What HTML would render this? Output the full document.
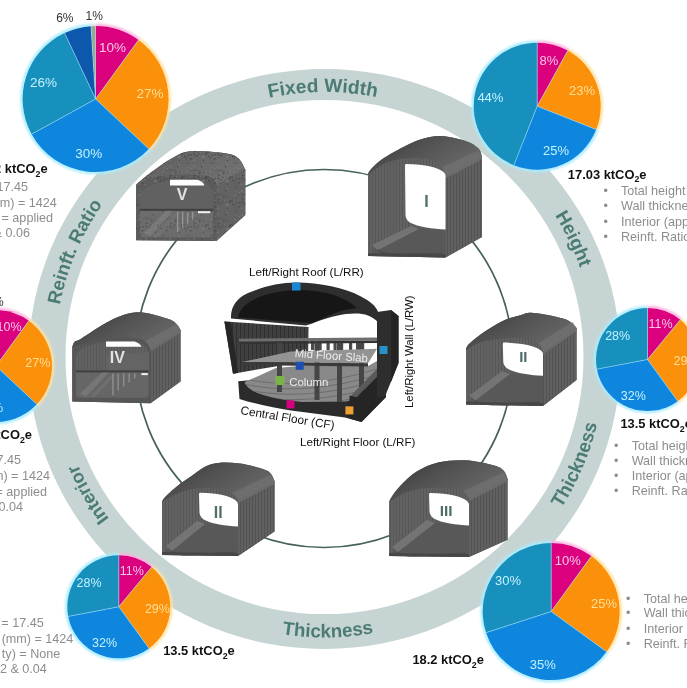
<!DOCTYPE html><html><head><meta charset="utf-8"><style>html,body{margin:0;padding:0;background:#fff;width:687px;height:688px;overflow:hidden;position:relative}</style></head><body>
<svg width="687" height="688" viewBox="0 0 687 688" style="position:absolute;left:0;top:0;will-change:transform;font-family:'Liberation Sans',sans-serif">
<defs><pattern id="speck" width="24" height="24" patternUnits="userSpaceOnUse"><circle cx="7.8" cy="3.6" r="0.69" fill="#3e3e3e"/><circle cx="19.7" cy="2.3" r="0.65" fill="#777777"/><circle cx="5.2" cy="2.1" r="0.55" fill="#474747"/><circle cx="2.2" cy="10.2" r="0.80" fill="#3e3e3e"/><circle cx="22.7" cy="15.1" r="0.65" fill="#3e3e3e"/><circle cx="13.9" cy="9.5" r="0.89" fill="#3e3e3e"/><circle cx="13.4" cy="3.2" r="0.55" fill="#777777"/><circle cx="2.8" cy="7.4" r="0.79" fill="#474747"/><circle cx="2.5" cy="13.7" r="0.41" fill="#3e3e3e"/><circle cx="13.1" cy="1.5" r="0.34" fill="#474747"/><circle cx="11.9" cy="12.8" r="0.77" fill="#808080"/><circle cx="14.1" cy="10.9" r="0.48" fill="#474747"/><circle cx="16.8" cy="5.9" r="0.64" fill="#777777"/><circle cx="11.9" cy="8.2" r="0.57" fill="#777777"/><circle cx="23.5" cy="2.8" r="0.55" fill="#4f4f4f"/><circle cx="3.6" cy="11.7" r="0.32" fill="#3e3e3e"/><circle cx="18.3" cy="13.8" r="0.83" fill="#4f4f4f"/><circle cx="8.2" cy="8.4" r="0.60" fill="#808080"/><circle cx="1.7" cy="2.2" r="0.46" fill="#3e3e3e"/><circle cx="1.5" cy="16.8" r="0.69" fill="#808080"/><circle cx="6.8" cy="9.3" r="0.70" fill="#3e3e3e"/><circle cx="22.6" cy="8.5" r="0.67" fill="#808080"/><circle cx="1.4" cy="18.4" r="0.38" fill="#474747"/><circle cx="9.5" cy="22.0" r="0.60" fill="#474747"/><circle cx="10.8" cy="13.2" r="0.83" fill="#808080"/><circle cx="20.7" cy="6.7" r="0.55" fill="#4f4f4f"/><circle cx="16.4" cy="9.1" r="0.44" fill="#3e3e3e"/><circle cx="4.2" cy="5.6" r="0.44" fill="#808080"/><circle cx="19.9" cy="4.4" r="0.47" fill="#474747"/><circle cx="10.1" cy="8.9" r="0.64" fill="#474747"/><circle cx="16.6" cy="12.4" r="0.67" fill="#3e3e3e"/><circle cx="11.0" cy="20.9" r="0.87" fill="#777777"/><circle cx="9.4" cy="9.6" r="0.36" fill="#808080"/><circle cx="1.5" cy="1.6" r="0.43" fill="#474747"/><circle cx="2.6" cy="14.4" r="0.36" fill="#777777"/><circle cx="3.6" cy="2.4" r="0.52" fill="#3e3e3e"/><circle cx="1.7" cy="5.0" r="0.53" fill="#4f4f4f"/><circle cx="22.9" cy="14.5" r="0.58" fill="#3e3e3e"/><circle cx="20.4" cy="23.8" r="0.58" fill="#808080"/><circle cx="7.5" cy="3.5" r="0.75" fill="#4f4f4f"/><circle cx="11.5" cy="16.6" r="0.61" fill="#474747"/><circle cx="22.8" cy="12.7" r="0.39" fill="#777777"/><circle cx="21.9" cy="18.2" r="0.48" fill="#3e3e3e"/><circle cx="16.7" cy="6.3" r="0.52" fill="#474747"/><circle cx="8.5" cy="5.3" r="0.62" fill="#777777"/><circle cx="7.9" cy="5.4" r="0.79" fill="#474747"/><circle cx="19.3" cy="19.6" r="0.74" fill="#474747"/><circle cx="4.8" cy="11.8" r="0.74" fill="#3e3e3e"/><circle cx="19.0" cy="11.3" r="0.42" fill="#777777"/><circle cx="23.0" cy="10.7" r="0.86" fill="#4f4f4f"/><circle cx="22.9" cy="8.8" r="0.43" fill="#474747"/><circle cx="11.3" cy="8.1" r="0.59" fill="#777777"/><circle cx="20.2" cy="11.5" r="0.69" fill="#3e3e3e"/><circle cx="20.0" cy="2.9" r="0.53" fill="#474747"/><circle cx="11.5" cy="4.3" r="0.77" fill="#4f4f4f"/><circle cx="2.1" cy="22.7" r="0.73" fill="#808080"/><circle cx="9.6" cy="22.7" r="0.73" fill="#474747"/><circle cx="23.8" cy="0.7" r="0.65" fill="#808080"/><circle cx="19.4" cy="3.5" r="0.80" fill="#808080"/><circle cx="15.8" cy="8.4" r="0.63" fill="#474747"/></pattern>
<linearGradient id="roofg" x1="0" y1="0" x2="1" y2="0.6">
  <stop offset="0" stop-color="#353535"/><stop offset="0.45" stop-color="#515151"/><stop offset="1" stop-color="#6a6a6a"/>
</linearGradient>
<linearGradient id="roofgt" x1="0" y1="0" x2="1" y2="0.6">
  <stop offset="0" stop-color="#5c5c5c"/><stop offset="1" stop-color="#727272"/>
</linearGradient>
<pattern id="stripe1" width="3" height="10" patternUnits="userSpaceOnUse">
  <rect width="3" height="10" fill="#626262"/><rect width="1" height="10" fill="#575757"/>
</pattern>
<pattern id="stripe2" width="3" height="10" patternUnits="userSpaceOnUse">
  <rect width="3" height="10" fill="#606060"/><rect width="1" height="10" fill="#535353"/>
</pattern>

<pattern id="stripe3" width="4" height="10" patternUnits="userSpaceOnUse">
  <rect width="4" height="10" fill="#404040"/><rect width="1.2" height="10" fill="#303030"/>
</pattern>
<filter id="glow" x="-20%" y="-20%" width="140%" height="140%"><feGaussianBlur stdDeviation="0.9"/></filter></defs>
<rect width="687" height="688" fill="#ffffff"/>
<path fill-rule="evenodd" fill="#c6d5d3" d="M28.5,359 A296,290 0 1 1 620.5,359 A296,290 0 1 1 28.5,359 Z M65.5,357 A259,257 0 1 0 583.5,357 A259,257 0 1 0 65.5,357 Z"/>
<circle cx="324" cy="358.5" r="189" fill="none" stroke="#46605b" stroke-width="1.7"/>
<g font-size="19.2" font-weight="bold" fill="#4c7b76"><text transform="translate(274.68,96.71) rotate(-10.80)" text-anchor="middle">F</text><text transform="translate(283.08,95.24) rotate(-8.96)" text-anchor="middle">i</text><text transform="translate(291.01,94.12) rotate(-7.23)" text-anchor="middle">x</text><text transform="translate(301.63,92.99) rotate(-4.93)" text-anchor="middle">e</text><text transform="translate(312.81,92.26) rotate(-2.52)" text-anchor="middle">d</text><text transform="translate(333.06,92.14) rotate(1.84)" text-anchor="middle">W</text><text transform="translate(344.77,92.77) rotate(4.37)" text-anchor="middle">i</text><text transform="translate(353.10,93.54) rotate(6.17)" text-anchor="middle">d</text><text transform="translate(362.09,94.67) rotate(8.12)" text-anchor="middle">t</text><text transform="translate(371.03,96.10) rotate(10.08)" text-anchor="middle">h</text></g>
<g font-size="18.8" font-weight="bold" fill="#4c7b76"><text transform="translate(558.37,221.08) rotate(59.65)" text-anchor="middle">H</text><text transform="translate(564.21,231.58) rotate(62.19)" text-anchor="middle">e</text><text transform="translate(567.76,238.57) rotate(63.85)" text-anchor="middle">i</text><text transform="translate(571.33,246.12) rotate(65.62)" text-anchor="middle">g</text><text transform="translate(575.85,256.68) rotate(68.04)" text-anchor="middle">h</text><text transform="translate(579.03,264.96) rotate(69.92)" text-anchor="middle">t</text></g>
<g font-size="18.7" font-weight="bold" fill="#4c7b76"><text transform="translate(61.16,298.42) rotate(-77.25)" text-anchor="middle">R</text><text transform="translate(64.05,286.82) rotate(-74.71)" text-anchor="middle">e</text><text transform="translate(66.22,279.33) rotate(-73.06)" text-anchor="middle">i</text><text transform="translate(68.76,271.42) rotate(-71.30)" text-anchor="middle">n</text><text transform="translate(71.72,263.11) rotate(-69.42)" text-anchor="middle">f</text><text transform="translate(73.98,257.30) rotate(-68.10)" text-anchor="middle">t</text><text transform="translate(76.17,252.03) rotate(-66.89)" text-anchor="middle">.</text><text transform="translate(82.23,238.81) rotate(-63.80)" text-anchor="middle">R</text><text transform="translate(87.74,228.20) rotate(-61.27)" text-anchor="middle">a</text><text transform="translate(91.85,220.98) rotate(-59.50)" text-anchor="middle">t</text><text transform="translate(94.80,216.09) rotate(-58.29)" text-anchor="middle">i</text><text transform="translate(99.28,209.09) rotate(-56.53)" text-anchor="middle">o</text></g>
<g font-size="18.8" font-weight="bold" fill="#4c7b76"><text transform="translate(287.79,635.08) rotate(7.55)" text-anchor="middle">T</text><text transform="translate(299.20,636.35) rotate(5.19)" text-anchor="middle">h</text><text transform="translate(307.53,636.98) rotate(3.48)" text-anchor="middle">i</text><text transform="translate(315.36,637.35) rotate(1.87)" text-anchor="middle">c</text><text transform="translate(325.81,637.50) rotate(-0.27)" text-anchor="middle">k</text><text transform="translate(336.78,637.23) rotate(-2.52)" text-anchor="middle">n</text><text transform="translate(347.73,636.53) rotate(-4.77)" text-anchor="middle">e</text><text transform="translate(358.13,635.47) rotate(-6.91)" text-anchor="middle">s</text><text transform="translate(368.48,634.02) rotate(-9.05)" text-anchor="middle">s</text></g>
<g font-size="18.9" font-weight="bold" fill="#4c7b76"><text transform="translate(564.27,503.57) rotate(-58.74)" text-anchor="middle">T</text><text transform="translate(570.06,493.58) rotate(-61.10)" text-anchor="middle">h</text><text transform="translate(574.01,486.17) rotate(-62.81)" text-anchor="middle">i</text><text transform="translate(577.51,479.11) rotate(-64.42)" text-anchor="middle">c</text><text transform="translate(581.87,469.54) rotate(-66.57)" text-anchor="middle">k</text><text transform="translate(586.05,459.34) rotate(-68.82)" text-anchor="middle">n</text><text transform="translate(589.84,448.98) rotate(-71.07)" text-anchor="middle">e</text><text transform="translate(593.06,438.98) rotate(-73.22)" text-anchor="middle">s</text><text transform="translate(595.90,428.86) rotate(-75.37)" text-anchor="middle">s</text></g>
<g font-size="18.4" font-weight="bold" fill="#4c7b76"><text transform="translate(107.79,516.69) rotate(233.78)" text-anchor="middle">I</text><text transform="translate(103.06,510.03) rotate(235.53)" text-anchor="middle">n</text><text transform="translate(98.26,502.79) rotate(237.38)" text-anchor="middle">t</text><text transform="translate(93.96,495.83) rotate(239.13)" text-anchor="middle">e</text><text transform="translate(89.62,488.30) rotate(240.98)" text-anchor="middle">r</text><text transform="translate(86.70,482.90) rotate(242.29)" text-anchor="middle">i</text><text transform="translate(83.01,475.60) rotate(244.03)" text-anchor="middle">o</text><text transform="translate(79.13,467.26) rotate(246.00)" text-anchor="middle">r</text></g>
<path d="M368.0,175.0 C368.3,174.2 367.9,172.9 370.0,170.5 C372.1,168.1 375.3,164.3 380.4,160.6 C385.5,156.9 394.0,151.9 400.8,148.3 C407.6,144.7 414.3,141.2 421.1,139.2 C427.9,137.2 434.0,135.8 441.5,136.1 C449.0,136.4 459.9,139.2 466.0,141.2 C472.1,143.2 475.5,145.8 478.2,148.3 C480.9,150.9 481.4,155.1 482.0,156.5 L482,237 L445.5,257.5 L368,256 Z" fill="#545454"/>
<path d="M368.0,175.0 C368.3,174.2 367.9,172.9 370.0,170.5 C372.1,168.1 375.3,164.3 380.4,160.6 C385.5,156.9 394.0,151.9 400.8,148.3 C407.6,144.7 414.3,141.2 421.1,139.2 C427.9,137.2 434.0,135.8 441.5,136.1 C449.0,136.4 459.9,139.2 466.0,141.2 C472.1,143.2 475.5,145.8 478.2,148.3 C480.9,150.9 481.4,155.1 482.0,156.5 L445.5,175.4L445.5,175.4 C444.8,173.8 443.9,168.7 441.0,166.0 C438.1,163.3 434.0,160.2 428.0,159.0 C422.0,157.8 412.2,157.8 405.0,158.5 C397.8,159.2 391.2,160.8 385.0,163.5 C378.8,166.2 370.8,173.1 368.0,175.0 Z" fill="url(#roofg)"/>
<path d="M445.5,175.4 L482,156.5 L482,237 L445.5,257.5 Z" fill="url(#stripe2)"/>
<path d="M439.5,168.4 L478,150.5 L482,156.5 L482,159.5 L445.5,178.4 Z" fill="#727272" opacity="0.75"/>
<path d="M368.0,175.0 C370.8,173.1 378.8,166.2 385.0,163.5 C391.2,160.8 397.8,159.2 405.0,158.5 C412.2,157.8 422.0,157.8 428.0,159.0 C434.0,160.2 438.1,163.3 441.0,166.0 C443.9,168.7 444.8,173.8 445.5,175.4 L445.5,257.5 L368,256 Z" fill="url(#stripe1)"/>
<path d="M370,251 L414,228 L445.5,229.5 L445.5,255.5 L441.5,255.5 C425.5,254.5 408,252 374,253 Z" fill="#585858"/>
<path d="M372,245 L411,226 L419,229 L378,250 Z" fill="#747474"/>
<path d="M378,250 C381,253 387,254 395,254 L442.5,253.5" fill="none" stroke="#4a4a4a" stroke-width="1.2"/>
<path d="M368,253 L445.5,254.5 L445.5,257.5 L368,256 Z" fill="#474747"/>
<path d="M406,164 C425.25,164.5 439.425,167.5 444.0,172.5 Q445.5,174 445.5,175.5 L445.5,229.5 C433.35,229.0 417.96,227.0 409.86,222.5 C406.5,220.0 405.5,217.5 405.5,215.5 L405,165.5 Q405,164 406,164 Z" fill="#ffffff"/>
<text x="426.5" y="206.6" text-anchor="middle" font-size="16" font-weight="bold" fill="#4f6f6b">I</text>
<path d="M466.0,349.0 C466.4,348.2 466.9,346.3 468.5,344.5 C470.1,342.7 472.4,340.7 475.7,338.2 C478.9,335.7 483.1,332.6 488.0,329.5 C492.9,326.4 500.2,322.1 505.4,319.8 C510.6,317.5 514.7,316.6 519.4,315.5 C524.1,314.4 525.8,312.3 533.4,312.9 C541.0,313.5 557.6,316.5 564.8,319.0 C572.0,321.5 574.5,326.5 576.5,328.0 L576.5,380 L543,406 L466,404.6 Z" fill="#545454"/>
<path d="M466.0,349.0 C466.4,348.2 466.9,346.3 468.5,344.5 C470.1,342.7 472.4,340.7 475.7,338.2 C478.9,335.7 483.1,332.6 488.0,329.5 C492.9,326.4 500.2,322.1 505.4,319.8 C510.6,317.5 514.7,316.6 519.4,315.5 C524.1,314.4 525.8,312.3 533.4,312.9 C541.0,313.5 557.6,316.5 564.8,319.0 C572.0,321.5 574.5,326.5 576.5,328.0 L543,351.3L543.0,351.3 C542.2,349.9 541.0,345.1 538.0,343.0 C535.0,340.9 530.7,339.2 525.0,338.5 C519.3,337.8 510.9,337.9 503.7,338.5 C496.5,339.1 488.3,340.1 482.0,342.0 C475.7,343.9 468.7,348.7 466.0,350.0 Z" fill="url(#roofg)"/>
<path d="M543,351.3 L576.5,328 L576.5,380 L543,406 Z" fill="url(#stripe2)"/>
<path d="M537,344.3 L572.5,322 L576.5,328 L576.5,331 L543,354.3 Z" fill="#727272" opacity="0.75"/>
<path d="M466.0,350.0 C468.7,348.7 475.7,343.9 482.0,342.0 C488.3,340.1 496.5,339.1 503.7,338.5 C510.9,337.9 519.3,337.8 525.0,338.5 C530.7,339.2 535.0,340.9 538.0,343.0 C541.0,345.1 542.2,349.9 543.0,351.3 L543,406 L466,404.6 Z" fill="url(#stripe1)"/>
<path d="M468,401.6 L505,373 L543,375.7 L543,404 L539,404 C523,403 506,400.6 472,401.6 Z" fill="#585858"/>
<path d="M469.5,395.6 L502,371 L510,374 L475.5,400.6 Z" fill="#747474"/>
<path d="M475.5,400.6 C478.5,403.6 484.5,404.6 492.5,404.6 L540,402" fill="none" stroke="#4a4a4a" stroke-width="1.2"/>
<path d="M466,401.6 L543,403 L543,406 L466,404.6 Z" fill="#474747"/>
<path d="M503.8,342.6 C522.9,343.1 536.97,346.1 541.5,351.1 Q543,352.6 543,354.1 L543,375.7 C530.94,375.2 515.664,373.2 507.624,368.7 C504.3,366.2 503.3,363.7 503.3,361.7 L502.8,344.1 Q502.8,342.6 503.8,342.6 Z" fill="#ffffff"/>
<text x="523.3" y="362.4" text-anchor="middle" font-size="15" font-weight="bold" fill="#4f6f6b">II</text>
<path d="M389.2,502.0 C389.6,501.2 389.6,499.9 391.5,497.2 C393.4,494.5 396.2,490.1 400.4,485.8 C404.6,481.5 410.3,475.4 416.7,471.5 C423.1,467.6 430.9,464.2 439.0,462.3 C447.1,460.4 456.4,459.8 465.6,460.3 C474.8,460.8 487.7,463.7 494.0,465.4 C500.3,467.1 501.2,468.3 503.5,470.5 C505.8,472.7 506.8,477.2 507.5,478.6 L507.5,539.8 L469,557 L389.2,556 Z" fill="#545454"/>
<path d="M389.2,502.0 C389.6,501.2 389.6,499.9 391.5,497.2 C393.4,494.5 396.2,490.1 400.4,485.8 C404.6,481.5 410.3,475.4 416.7,471.5 C423.1,467.6 430.9,464.2 439.0,462.3 C447.1,460.4 456.4,459.8 465.6,460.3 C474.8,460.8 487.7,463.7 494.0,465.4 C500.3,467.1 501.2,468.3 503.5,470.5 C505.8,472.7 506.8,477.2 507.5,478.6 L469,498L469.0,498.0 C468.3,497.2 467.8,494.6 465.0,493.0 C462.2,491.4 458.0,489.3 452.0,488.5 C446.0,487.7 436.5,487.4 429.0,488.0 C421.5,488.6 413.6,489.7 407.0,492.0 C400.4,494.3 392.2,500.3 389.2,502.0 Z" fill="url(#roofg)"/>
<path d="M469,498 L507.5,478.6 L507.5,539.8 L469,557 Z" fill="url(#stripe2)"/>
<path d="M463,491 L503.5,472.6 L507.5,478.6 L507.5,481.6 L469,501 Z" fill="#727272" opacity="0.75"/>
<path d="M389.2,502.0 C392.2,500.3 400.4,494.3 407.0,492.0 C413.6,489.7 421.5,488.6 429.0,488.0 C436.5,487.4 446.0,487.7 452.0,488.5 C458.0,489.3 462.2,491.4 465.0,493.0 C467.8,494.6 468.3,497.2 469.0,498.0 L469,557 L389.2,556 Z" fill="url(#stripe1)"/>
<path d="M391.2,553 L430,522 L469,525.5 L469,555 L465,555 C449,554 429.2,552 395.2,553 Z" fill="#585858"/>
<path d="M392,547 L427,520 L435,523 L398,552 Z" fill="#747474"/>
<path d="M398,552 C401,555 407,556 415,556 L466,553" fill="none" stroke="#4a4a4a" stroke-width="1.2"/>
<path d="M389.2,553 L469,554 L469,557 L389.2,556 Z" fill="#474747"/>
<path d="M430,493 C449.0,493.5 463.0,496.5 467.5,501.5 Q469,503 469,504.5 L469,525.5 C457.0,525.0 441.8,523.0 433.8,518.5 C430.5,516.0 429.5,513.5 429.5,511.5 L429,494.5 Q429,493 430,493 Z" fill="#ffffff"/>
<text x="446.2" y="516.3" text-anchor="middle" font-size="15.5" font-weight="bold" fill="#4f6f6b">III</text>
<path d="M162.2,502.0 C162.6,501.3 162.1,500.4 164.5,497.8 C166.9,495.2 172.1,490.2 176.5,486.7 C180.9,483.1 185.0,480.2 190.8,476.5 C196.6,472.8 203.3,466.5 211.1,464.3 C218.9,462.1 228.8,462.4 237.6,463.2 C246.4,464.0 258.5,467.6 264.1,469.4 C269.7,471.2 269.3,472.1 271.0,474.0 C272.7,475.9 273.9,479.8 274.5,481.0 L274.5,531.5 L238,556 L162.2,555 Z" fill="#545454"/>
<path d="M162.2,502.0 C162.6,501.3 162.1,500.4 164.5,497.8 C166.9,495.2 172.1,490.2 176.5,486.7 C180.9,483.1 185.0,480.2 190.8,476.5 C196.6,472.8 203.3,466.5 211.1,464.3 C218.9,462.1 228.8,462.4 237.6,463.2 C246.4,464.0 258.5,467.6 264.1,469.4 C269.7,471.2 269.3,472.1 271.0,474.0 C272.7,475.9 273.9,479.8 274.5,481.0 L238,500L238.0,500.0 C237.3,499.0 236.7,495.8 234.0,494.0 C231.3,492.2 227.8,489.9 222.0,489.0 C216.2,488.1 206.0,487.9 199.0,488.5 C192.0,489.1 186.1,490.2 180.0,492.5 C173.9,494.8 165.2,500.4 162.2,502.0 Z" fill="url(#roofg)"/>
<path d="M238,500 L274.5,481 L274.5,531.5 L238,556 Z" fill="url(#stripe2)"/>
<path d="M232,493 L270.5,475 L274.5,481 L274.5,484 L238,503 Z" fill="#727272" opacity="0.75"/>
<path d="M162.2,502.0 C165.2,500.4 173.9,494.8 180.0,492.5 C186.1,490.2 192.0,489.1 199.0,488.5 C206.0,487.9 216.2,488.1 222.0,489.0 C227.8,489.9 231.3,492.2 234.0,494.0 C236.7,495.8 237.3,499.0 238.0,500.0 L238,556 L162.2,555 Z" fill="url(#stripe1)"/>
<path d="M164.2,552 L200,523 L238,526.4 L238,554 L234,554 C218,553 202.2,551 168.2,552 Z" fill="#585858"/>
<path d="M166,546 L197,521 L205,524 L172,551 Z" fill="#747474"/>
<path d="M172,551 C175,554 181,555 189,555 L235,552" fill="none" stroke="#4a4a4a" stroke-width="1.2"/>
<path d="M162.2,552 L238,553 L238,556 L162.2,555 Z" fill="#474747"/>
<path d="M200,492.8 C218.5,493.3 232.15,496.3 236.5,501.3 Q238,502.8 238,504.3 L238,526.4 C226.3,525.9 211.48,523.9 203.68,519.4 C200.5,516.9 199.5,514.4 199.5,512.4 L199,494.3 Q199,492.8 200,492.8 Z" fill="#ffffff"/>
<text x="218.2" y="518.3" text-anchor="middle" font-size="16" font-weight="bold" fill="#4f6f6b">II</text>
<path d="M72.3,347.0 C72.7,346.2 73.0,343.4 74.5,342.0 C76.0,340.6 75.4,342.1 81.4,338.5 C87.4,334.9 101.1,324.9 110.5,320.5 C119.9,316.1 128.4,312.6 137.8,312.3 C147.2,312.0 160.5,316.7 166.9,318.6 C173.3,320.5 173.7,321.6 176.0,323.5 C178.3,325.4 179.8,328.9 180.5,330.0 L180.5,381.4 L150.5,403.3 L72.3,401.4 Z" fill="#525252"/>
<path d="M72.3,347.0 C72.7,346.2 73.0,343.4 74.5,342.0 C76.0,340.6 75.4,342.1 81.4,338.5 C87.4,334.9 101.1,324.9 110.5,320.5 C119.9,316.1 128.4,312.6 137.8,312.3 C147.2,312.0 160.5,316.7 166.9,318.6 C173.3,320.5 173.7,321.6 176.0,323.5 C178.3,325.4 179.8,328.9 180.5,330.0 L150.5,348.7L150.5,348.7 C149.6,347.5 148.3,343.2 145.0,341.4 C141.7,339.6 137.8,338.1 130.5,337.8 C123.2,337.5 111.1,338.1 101.4,339.6 C91.7,341.1 77.2,345.8 72.3,347.0 Z" fill="url(#roofg)"/>
<path d="M150.5,348.7 L180.5,330 L180.5,381.4 L150.5,403.3 Z" fill="url(#stripe2)"/>
<path d="M144.5,341.7 L176.5,324 L180.5,330 L180.5,333 L150.5,351.7 Z" fill="#727272" opacity="0.7"/>
<path d="M72.3,347.0 C77.2,345.8 91.7,341.1 101.4,339.6 C111.1,338.1 123.2,337.5 130.5,337.8 C137.8,338.1 141.7,339.6 145.0,341.4 C148.3,343.2 149.6,347.5 150.5,348.7 L150.5,403.3 L72.3,401.4 Z" fill="#565656"/>
<path d="M75.9,356.0 C77.2,354.7 79.3,350.2 84.0,348.0 C88.7,345.8 96.3,343.5 104.0,342.5 C111.7,341.5 123.5,341.6 130.0,342.0 C136.5,342.4 139.9,343.3 143.0,345.0 C146.1,346.7 147.8,350.8 148.7,352.0 L148.7,393.8 Q148.7,397.8 144.7,397.8 L79.9,397.8 Q75.9,397.8 75.9,393.8 Z" fill="#666666"/>
<path d="M75.9,356.0 C77.2,354.7 79.3,350.2 84.0,348.0 C88.7,345.8 96.3,343.5 104.0,342.5 C111.7,341.5 123.5,341.6 130.0,342.0 C136.5,342.4 139.9,343.3 143.0,345.0 C146.1,346.7 147.8,350.8 148.7,352.0 L148.7,371.4 L75.9,371.4 Z" fill="#646464"/>
<path d="M75.9,356.0 C77.2,354.7 79.3,350.2 84.0,348.0 C88.7,345.8 96.3,343.5 104.0,342.5 C111.7,341.5 123.5,341.6 130.0,342.0 C136.5,342.4 139.9,343.3 143.0,345.0 C146.1,346.7 147.8,350.8 148.7,352.0 L106,356 L106,371.4 L75.9,371.4 Z" fill="url(#stripe1)" opacity="0.9"/>
<rect x="75.9" y="370.4" width="72.79999999999998" height="2" fill="#404040"/>
<path d="M79.9,393.8 L101.9,372.4 L108.9,372.4 L85.9,396.8 Z" fill="#8a8a8a" opacity="0.45"/>
<path d="M89.9,396.8 L111.9,374.4 L115.9,374.4 L94.9,396.8 Z" fill="#7c7c7c" opacity="0.4"/>
<rect x="112.3" y="373.4" width="1.3" height="22" fill="#a5a5a5" opacity="0.7"/>
<rect x="117.5" y="373.4" width="1.3" height="17" fill="#a5a5a5" opacity="0.7"/>
<rect x="123" y="373.4" width="1.3" height="13" fill="#a5a5a5" opacity="0.7"/>
<rect x="128.5" y="373.4" width="1.3" height="9" fill="#a5a5a5" opacity="0.7"/>
<rect x="134" y="373.4" width="1.3" height="5" fill="#a5a5a5" opacity="0.7"/>
<rect x="141.4" y="373.1" width="6.400000000000006" height="2" fill="#f2f2f2"/>
<path d="M106,341.4 L134.5,341.4 C138.5,342.4 140.5,344.4 141.5,346.8 L106,346.8 Z" fill="#ffffff"/>
<text x="117.3" y="363.2" text-anchor="middle" font-size="16" font-weight="bold" fill="#e2e2e2">IV</text>
<path d="M136.1,185.0 C136.5,184.6 135.7,184.8 138.5,182.5 C141.3,180.2 146.8,175.4 152.7,171.2 C158.6,167.0 167.0,160.5 173.7,157.2 C180.4,153.8 183.9,151.7 192.9,151.1 C201.9,150.5 220.1,152.4 227.8,153.7 C235.5,155.0 236.1,156.4 239.0,159.0 C241.9,161.6 244.2,167.8 245.3,169.5 L245.3,214.9 L216.5,241 L136.1,240.2 Z" fill="#5e5e5e"/>
<path d="M136.1,185.0 C136.5,184.6 135.7,184.8 138.5,182.5 C141.3,180.2 146.8,175.4 152.7,171.2 C158.6,167.0 167.0,160.5 173.7,157.2 C180.4,153.8 183.9,151.7 192.9,151.1 C201.9,150.5 220.1,152.4 227.8,153.7 C235.5,155.0 236.1,156.4 239.0,159.0 C241.9,161.6 244.2,167.8 245.3,169.5 L245.3,214.9 L216.5,241 L136.1,240.2 Z" fill="url(#speck)"/>
<path d="M136.1,185.0 C136.5,184.6 135.7,184.8 138.5,182.5 C141.3,180.2 146.8,175.4 152.7,171.2 C158.6,167.0 167.0,160.5 173.7,157.2 C180.4,153.8 183.9,151.7 192.9,151.1 C201.9,150.5 220.1,152.4 227.8,153.7 C235.5,155.0 236.1,156.4 239.0,159.0 C241.9,161.6 244.2,167.8 245.3,169.5 L216.5,184.3L216.5,184.3 C215.5,183.1 214.8,178.9 210.3,177.3 C205.8,175.7 197.8,174.8 189.4,174.7 C181.0,174.6 168.9,174.8 160.0,176.5 C151.1,178.2 140.1,183.6 136.1,185.0 Z" fill="url(#roofgt)"/>
<path d="M136.1,185.0 C136.5,184.6 135.7,184.8 138.5,182.5 C141.3,180.2 146.8,175.4 152.7,171.2 C158.6,167.0 167.0,160.5 173.7,157.2 C180.4,153.8 183.9,151.7 192.9,151.1 C201.9,150.5 220.1,152.4 227.8,153.7 C235.5,155.0 236.1,156.4 239.0,159.0 C241.9,161.6 244.2,167.8 245.3,169.5 L216.5,184.3L216.5,184.3 C215.5,183.1 214.8,178.9 210.3,177.3 C205.8,175.7 197.8,174.8 189.4,174.7 C181.0,174.6 168.9,174.8 160.0,176.5 C151.1,178.2 140.1,183.6 136.1,185.0 Z" fill="url(#speck)"/>
<path d="M216.5,184.3 L245.3,169.5 L245.3,214.9 L216.5,241 Z" fill="#636363"/>
<path d="M216.5,184.3 L245.3,169.5 L245.3,214.9 L216.5,241 Z" fill="url(#speck)"/>
<path d="M136.1,185.0 C140.1,183.6 151.1,178.2 160.0,176.5 C168.9,174.8 181.0,174.6 189.4,174.7 C197.8,174.8 205.8,175.7 210.3,177.3 C214.8,178.9 215.5,183.1 216.5,184.3 L216.5,241 L136.1,240.2 Z" fill="#5c5c5c"/>
<path d="M136.1,185.0 C140.1,183.6 151.1,178.2 160.0,176.5 C168.9,174.8 181.0,174.6 189.4,174.7 C197.8,174.8 205.8,175.7 210.3,177.3 C214.8,178.9 215.5,183.1 216.5,184.3 L216.5,241 L136.1,240.2 Z" fill="url(#speck)"/>
<path d="M139.9,196.0 C141.2,194.5 143.0,189.5 148.0,187.0 C153.0,184.5 162.2,181.9 170.0,181.0 C177.8,180.1 188.8,181.0 195.0,181.5 C201.2,182.0 204.0,182.2 207.0,184.0 C210.0,185.8 212.2,190.7 213.2,192.0 L213.2,233.3 Q213.2,237.3 209.2,237.3 L143.9,237.3 Q139.9,237.3 139.9,233.3 Z" fill="#6c6c6c"/>
<path d="M139.9,196.0 C141.2,194.5 143.0,189.5 148.0,187.0 C153.0,184.5 162.2,181.9 170.0,181.0 C177.8,180.1 188.8,181.0 195.0,181.5 C201.2,182.0 204.0,182.2 207.0,184.0 C210.0,185.8 212.2,190.7 213.2,192.0 L213.2,233.3 Q213.2,237.3 209.2,237.3 L143.9,237.3 Q139.9,237.3 139.9,233.3 Z" fill="url(#speck)" opacity="0.8"/>
<path d="M139.9,196.0 C141.2,194.5 143.0,189.5 148.0,187.0 C153.0,184.5 162.2,181.9 170.0,181.0 C177.8,180.1 188.8,181.0 195.0,181.5 C201.2,182.0 204.0,182.2 207.0,184.0 C210.0,185.8 212.2,190.7 213.2,192.0 L213.2,209.8 L139.9,209.8 Z" fill="#616161"/>
<rect x="139.9" y="208.8" width="73.29999999999998" height="2" fill="#404040"/>
<path d="M143.9,233.3 L165.9,210.8 L172.9,210.8 L149.9,236.3 Z" fill="#8a8a8a" opacity="0.45"/>
<path d="M153.9,236.3 L175.9,212.8 L179.9,212.8 L158.9,236.3 Z" fill="#7c7c7c" opacity="0.4"/>
<rect x="177" y="211.8" width="1.3" height="20" fill="#a5a5a5" opacity="0.7"/>
<rect x="182" y="211.8" width="1.3" height="16" fill="#a5a5a5" opacity="0.7"/>
<rect x="187" y="211.8" width="1.3" height="12" fill="#a5a5a5" opacity="0.7"/>
<rect x="192" y="211.8" width="1.3" height="8" fill="#a5a5a5" opacity="0.7"/>
<rect x="198" y="211.2" width="12.300000000000011" height="2" fill="#f2f2f2"/>
<path d="M170,179.7 L197.4,179.7 C201.4,180.7 203.4,182.7 204.4,185.5 L170,185.5 Z" fill="#ffffff"/>
<text x="182" y="200" text-anchor="middle" font-size="16" font-weight="bold" fill="#e2e2e2">V</text>
<path d="M231,317 C231,306 237,298 248,293 C265,286 280,282.5 296,282.5 C320,282.5 345,288 360,296 C370,301 376,306 378,312 L378,322 C372,316 365,313.5 355,313.5 C343,313.5 330,317 320,320.5 C314,322.5 310,324.5 306,325.5 L231,318.5 Z" fill="#2e2e2e"/>
<path d="M239,314 C244,302 262,292 296,290 C328,290 346,298 357,308 C350,309 342,310 335,313 C327,316 320,320 312,323 L238,317.5 Z" fill="#161616"/>
<path d="M224.4,321.5 L308.5,327 L308,360 L275.3,366.4 L233,373.7 Z" fill="url(#stripe3)"/>
<path d="M224.4,321.5 L231,322 L238,373 L233,373.7 Z" fill="#262626"/>
<rect x="311" y="341" width="3.2" height="9" fill="#4a4a4a"/>
<rect x="318.5" y="341" width="3.2" height="9" fill="#4a4a4a"/>
<rect x="326.5" y="341" width="3.2" height="9" fill="#4a4a4a"/>
<rect x="333.5" y="341" width="3.2" height="9" fill="#4a4a4a"/>
<rect x="340" y="341" width="3.2" height="9" fill="#4a4a4a"/>
<rect x="349" y="341" width="3.2" height="9" fill="#4a4a4a"/>
<rect x="356" y="341" width="3.2" height="9" fill="#4a4a4a"/>
<rect x="361" y="341" width="3.2" height="9" fill="#4a4a4a"/>
<path d="M239,338.7 L377,337.5 L377,340.5 L239,341.8 Z" fill="#6e6e6e"/>
<path d="M239,341.8 L377,340.5 L377,343 L239,344 Z" fill="#333"/>
<path d="M238.2,381.3 L377,369 L386,371 L386,397 L361.5,422 L345,417.5 L291,410.5 C275,408 255,404 239.5,399 Z" fill="#2b2b2b"/>
<path d="M244.5,382.3 L276,368 L300,366 L368,366 L377,361 L377,379 C372,390 362,398 346,401.5 L302,402 C278,399.5 261,395.5 253,391 C248,388 246,385.5 244.5,382.3 Z" fill="#898989"/>
<clipPath id="dishclip"><path d="M244.5,382.3 L276,368 L300,366 L368,366 L377,361 L377,379 C372,390 362,398 346,401.5 L302,402 C278,399.5 261,395.5 253,391 C248,388 246,385.5 244.5,382.3 Z"/></clipPath>
<g clip-path="url(#dishclip)">
<path d="M240,378.0 C275,386.0 320,387.0 380,368.0" fill="none" stroke="#6a6a6a" stroke-width="0.9"/>
<path d="M240,383.20000000000005 C275,391.40000000000003 320,392.40000000000003 380,374.0" fill="none" stroke="#6a6a6a" stroke-width="0.9"/>
<path d="M240,388.4 C275,396.8 320,397.8 380,380.0" fill="none" stroke="#6a6a6a" stroke-width="0.9"/>
<path d="M240,393.6 C275,402.2 320,403.2 380,386.0" fill="none" stroke="#6a6a6a" stroke-width="0.9"/>
<path d="M240,398.79999999999995 C275,407.59999999999997 320,408.59999999999997 380,392.0" fill="none" stroke="#6a6a6a" stroke-width="0.9"/>
<path d="M240,404.0 C275,413.0 320,414.0 380,398.0" fill="none" stroke="#6a6a6a" stroke-width="0.9"/>
</g>
<rect x="277" y="343" width="5" height="49" fill="#454545"/>
<rect x="314.5" y="343" width="5" height="57" fill="#454545"/>
<rect x="337" y="343" width="5" height="59" fill="#454545"/>
<rect x="359" y="343" width="5" height="55" fill="#454545"/>
<path d="M242,362 L290.5,351.4 L377,348.8 L368,363.2 Z" fill="#939393"/>
<path d="M242,362 L368,363.2 L368,366.5 L242,365.2 Z" fill="#3a3a3a"/>
<path d="M351,395.5 L377,369 L383,370.5 L357,397 Z" fill="#5a5a5a"/>
<path d="M349.5,395.5 L357,397 L383,370.5 L386,372 L386,397 L361.5,422 L349.5,418.5 Z" fill="#252525"/>
<path d="M377,312 L391,310 L398.5,316 L398.5,363 L385,396.5 L377,398 Z" fill="#2e2e2e"/>
<path d="M391,310 L398.5,316 L398.5,363 L391,382 Z" fill="#232323"/>
<rect x="292" y="282.5" width="8.5" height="8" fill="#1a86d6"/>
<rect x="379.5" y="346" width="8" height="8" fill="#2a90c8"/>
<rect x="295.7" y="361.8" width="8" height="8" fill="#1c4fb0"/>
<rect x="275.5" y="376" width="9" height="9" fill="#79b34a"/>
<rect x="286.5" y="400.4" width="8" height="8" fill="#d8007f"/>
<rect x="345.4" y="406.4" width="8" height="8" fill="#f0a030"/>
<text x="249" y="276" font-size="11.6" fill="#111">Left/Right Roof (L/RR)</text>
<text x="300" y="445.7" font-size="11.6" fill="#111">Left/Right Floor (L/RF)</text>
<text transform="translate(412.6,408) rotate(-90)" font-size="11.4" fill="#111">Left/Right Wall (L/RW)</text>
<text transform="translate(240,414) rotate(9.3)" font-size="11.8" fill="#111">Central Floor (CF)</text>
<text transform="translate(294.4,357) rotate(4)" font-size="11.4" fill="#ececec">Mid Floor Slab</text>
<text x="289.2" y="385.5" font-size="11.4" fill="#ececec">Column</text>
<g filter="url(#glow)">
<path d="M95.60,25.20 A73.8,73.8 0 0 1 138.98,39.29" fill="none" stroke="#ffb0dd" stroke-width="3"/>
<path d="M138.98,39.29 A73.8,73.8 0 0 1 149.40,149.52" fill="none" stroke="#ffe2a0" stroke-width="3"/>
<path d="M149.40,149.52 A73.8,73.8 0 0 1 30.93,134.55" fill="none" stroke="#a8ecff" stroke-width="3"/>
<path d="M30.93,134.55 A73.8,73.8 0 0 1 64.18,32.22" fill="none" stroke="#a8ecff" stroke-width="3"/>
<path d="M64.18,32.22 A73.8,73.8 0 0 1 90.97,25.35" fill="none" stroke="#a8ecff" stroke-width="3"/>
<path d="M90.97,25.35 A73.8,73.8 0 0 1 95.60,25.20" fill="none" stroke="#dddddd" stroke-width="3"/>
</g>
<path d="M95.6,99 L95.60,26.00 A73,73 0 0 1 138.51,39.94 Z" fill="#da007e"/>
<path d="M95.6,99 L138.51,39.94 A73,73 0 0 1 148.81,148.97 Z" fill="#fb910a"/>
<path d="M95.6,99 L148.81,148.97 A73,73 0 0 1 31.63,134.17 Z" fill="#0f86de"/>
<path d="M95.6,99 L31.63,134.17 A73,73 0 0 1 64.52,32.95 Z" fill="#1790bd"/>
<path d="M95.6,99 L64.52,32.95 A73,73 0 0 1 91.02,26.14 Z" fill="#0d58ad"/>
<path d="M95.6,99 L91.02,26.14 A73,73 0 0 1 95.60,26.00 Z" fill="#a3a28c"/>
<path d="M95.6,99 L95.60,26.00" stroke="#9fe2ff" stroke-width="0.7" opacity="0.8"/>
<path d="M95.6,99 L138.51,39.94" stroke="#9fe2ff" stroke-width="0.7" opacity="0.8"/>
<path d="M95.6,99 L148.81,148.97" stroke="#9fe2ff" stroke-width="0.7" opacity="0.8"/>
<path d="M95.6,99 L31.63,134.17" stroke="#9fe2ff" stroke-width="0.7" opacity="0.8"/>
<path d="M95.6,99 L64.52,32.95" stroke="#9fe2ff" stroke-width="0.7" opacity="0.8"/>
<path d="M95.6,99 L91.02,26.14" stroke="#9fe2ff" stroke-width="0.7" opacity="0.8"/>
<text x="112.5" y="51.5" text-anchor="middle" font-size="13.5" fill="#f9c3e6">10%</text>
<text x="150.1" y="98.4" text-anchor="middle" font-size="13.5" fill="#ffdf9a">27%</text>
<text x="88.7" y="157.9" text-anchor="middle" font-size="13.5" fill="#c4f2ff">30%</text>
<text x="43.5" y="86.7" text-anchor="middle" font-size="13.5" fill="#c4f2ff">26%</text>
<text x="64.8" y="21.5" text-anchor="middle" font-size="12" fill="#333">6%</text>
<text x="94.2" y="19.5" text-anchor="middle" font-size="12" fill="#333">1%</text>
<g filter="url(#glow)">
<path d="M537.20,41.90 A64.3,64.3 0 0 1 568.18,49.85" fill="none" stroke="#ffb0dd" stroke-width="3"/>
<path d="M568.18,49.85 A64.3,64.3 0 0 1 596.98,129.87" fill="none" stroke="#ffe2a0" stroke-width="3"/>
<path d="M596.98,129.87 A64.3,64.3 0 0 1 513.53,165.98" fill="none" stroke="#a8ecff" stroke-width="3"/>
<path d="M513.53,165.98 A64.3,64.3 0 0 1 537.20,41.90" fill="none" stroke="#a8ecff" stroke-width="3"/>
</g>
<path d="M537.2,106.2 L537.20,42.70 A63.5,63.5 0 0 1 567.79,50.55 Z" fill="#da007e"/>
<path d="M537.2,106.2 L567.79,50.55 A63.5,63.5 0 0 1 596.24,129.58 Z" fill="#fb910a"/>
<path d="M537.2,106.2 L596.24,129.58 A63.5,63.5 0 0 1 513.82,165.24 Z" fill="#0f86de"/>
<path d="M537.2,106.2 L513.82,165.24 A63.5,63.5 0 0 1 537.20,42.70 Z" fill="#1790bd"/>
<path d="M537.2,106.2 L537.20,42.70" stroke="#9fe2ff" stroke-width="0.7" opacity="0.8"/>
<path d="M537.2,106.2 L567.79,50.55" stroke="#9fe2ff" stroke-width="0.7" opacity="0.8"/>
<path d="M537.2,106.2 L596.24,129.58" stroke="#9fe2ff" stroke-width="0.7" opacity="0.8"/>
<path d="M537.2,106.2 L513.82,165.24" stroke="#9fe2ff" stroke-width="0.7" opacity="0.8"/>
<text x="549.0" y="64.7" text-anchor="middle" font-size="13" fill="#f9c3e6">8%</text>
<text x="582.0" y="94.7" text-anchor="middle" font-size="13" fill="#ffdf9a">23%</text>
<text x="556.1" y="154.5" text-anchor="middle" font-size="13" fill="#c4f2ff">25%</text>
<text x="490.4" y="101.9" text-anchor="middle" font-size="13" fill="#c4f2ff">44%</text>
<g filter="url(#glow)">
<path d="M-4.00,309.20 A56.8,56.8 0 0 1 29.39,320.05" fill="none" stroke="#ffb0dd" stroke-width="3"/>
<path d="M29.39,320.05 A56.8,56.8 0 0 1 37.41,404.88" fill="none" stroke="#ffe2a0" stroke-width="3"/>
<path d="M37.41,404.88 A56.8,56.8 0 0 1 -53.77,393.36" fill="none" stroke="#a8ecff" stroke-width="3"/>
<path d="M-53.77,393.36 A56.8,56.8 0 0 1 -28.18,314.61" fill="none" stroke="#a8ecff" stroke-width="3"/>
<path d="M-28.18,314.61 A56.8,56.8 0 0 1 -7.57,309.31" fill="none" stroke="#a8ecff" stroke-width="3"/>
<path d="M-7.57,309.31 A56.8,56.8 0 0 1 -4.00,309.20" fill="none" stroke="#dddddd" stroke-width="3"/>
</g>
<path d="M-4,366 L-4.00,310.00 A56,56 0 0 1 28.92,320.70 Z" fill="#da007e"/>
<path d="M-4,366 L28.92,320.70 A56,56 0 0 1 36.82,404.33 Z" fill="#fb910a"/>
<path d="M-4,366 L36.82,404.33 A56,56 0 0 1 -53.07,392.98 Z" fill="#0f86de"/>
<path d="M-4,366 L-53.07,392.98 A56,56 0 0 1 -27.84,315.33 Z" fill="#1790bd"/>
<path d="M-4,366 L-27.84,315.33 A56,56 0 0 1 -7.52,310.11 Z" fill="#0d58ad"/>
<path d="M-4,366 L-7.52,310.11 A56,56 0 0 1 -4.00,310.00 Z" fill="#a3a28c"/>
<path d="M-4,366 L-4.00,310.00" stroke="#9fe2ff" stroke-width="0.7" opacity="0.8"/>
<path d="M-4,366 L28.92,320.70" stroke="#9fe2ff" stroke-width="0.7" opacity="0.8"/>
<path d="M-4,366 L36.82,404.33" stroke="#9fe2ff" stroke-width="0.7" opacity="0.8"/>
<path d="M-4,366 L-53.07,392.98" stroke="#9fe2ff" stroke-width="0.7" opacity="0.8"/>
<path d="M-4,366 L-27.84,315.33" stroke="#9fe2ff" stroke-width="0.7" opacity="0.8"/>
<path d="M-4,366 L-7.52,310.11" stroke="#9fe2ff" stroke-width="0.7" opacity="0.8"/>
<text x="9.0" y="330.7" text-anchor="middle" font-size="12.5" fill="#f9c3e6">10%</text>
<text x="37.8" y="366.6" text-anchor="middle" font-size="12.5" fill="#ffdf9a">27%</text>
<text x="-9.3" y="412.3" text-anchor="middle" font-size="12.5" fill="#c4f2ff">30%</text>
<text x="-43.9" y="357.6" text-anchor="middle" font-size="12.5" fill="#c4f2ff">26%</text>
<text x="-27.5" y="307.5" text-anchor="middle" font-size="12" fill="#333">6%</text>
<text x="-5" y="305.5" text-anchor="middle" font-size="12" fill="#333">1%</text>
<g filter="url(#glow)">
<path d="M647.50,307.20 A52.3,52.3 0 0 1 680.84,319.20" fill="none" stroke="#ffb0dd" stroke-width="3"/>
<path d="M680.84,319.20 A52.3,52.3 0 0 1 678.24,401.81" fill="none" stroke="#ffe2a0" stroke-width="3"/>
<path d="M678.24,401.81 A52.3,52.3 0 0 1 596.13,369.30" fill="none" stroke="#a8ecff" stroke-width="3"/>
<path d="M596.13,369.30 A52.3,52.3 0 0 1 647.50,307.20" fill="none" stroke="#a8ecff" stroke-width="3"/>
</g>
<path d="M647.5,359.5 L647.50,308.00 A51.5,51.5 0 0 1 680.33,319.82 Z" fill="#da007e"/>
<path d="M647.5,359.5 L680.33,319.82 A51.5,51.5 0 0 1 677.77,401.16 Z" fill="#fb910a"/>
<path d="M647.5,359.5 L677.77,401.16 A51.5,51.5 0 0 1 596.91,369.15 Z" fill="#0f86de"/>
<path d="M647.5,359.5 L596.91,369.15 A51.5,51.5 0 0 1 647.50,308.00 Z" fill="#1790bd"/>
<path d="M647.5,359.5 L647.50,308.00" stroke="#9fe2ff" stroke-width="0.7" opacity="0.8"/>
<path d="M647.5,359.5 L680.33,319.82" stroke="#9fe2ff" stroke-width="0.7" opacity="0.8"/>
<path d="M647.5,359.5 L677.77,401.16" stroke="#9fe2ff" stroke-width="0.7" opacity="0.8"/>
<path d="M647.5,359.5 L596.91,369.15" stroke="#9fe2ff" stroke-width="0.7" opacity="0.8"/>
<text x="660.6" y="327.8" text-anchor="middle" font-size="12.5" fill="#f9c3e6">11%</text>
<text x="686.1" y="365.3" text-anchor="middle" font-size="12.5" fill="#ffdf9a">29%</text>
<text x="633.3" y="400.0" text-anchor="middle" font-size="12.5" fill="#c4f2ff">32%</text>
<text x="617.7" y="339.5" text-anchor="middle" font-size="12.5" fill="#c4f2ff">28%</text>
<g filter="url(#glow)">
<path d="M118.80,554.50 A52.3,52.3 0 0 1 152.14,566.50" fill="none" stroke="#ffb0dd" stroke-width="3"/>
<path d="M152.14,566.50 A52.3,52.3 0 0 1 149.54,649.11" fill="none" stroke="#ffe2a0" stroke-width="3"/>
<path d="M149.54,649.11 A52.3,52.3 0 0 1 67.43,616.60" fill="none" stroke="#a8ecff" stroke-width="3"/>
<path d="M67.43,616.60 A52.3,52.3 0 0 1 118.80,554.50" fill="none" stroke="#a8ecff" stroke-width="3"/>
</g>
<path d="M118.8,606.8 L118.80,555.30 A51.5,51.5 0 0 1 151.63,567.12 Z" fill="#da007e"/>
<path d="M118.8,606.8 L151.63,567.12 A51.5,51.5 0 0 1 149.07,648.46 Z" fill="#fb910a"/>
<path d="M118.8,606.8 L149.07,648.46 A51.5,51.5 0 0 1 68.21,616.45 Z" fill="#0f86de"/>
<path d="M118.8,606.8 L68.21,616.45 A51.5,51.5 0 0 1 118.80,555.30 Z" fill="#1790bd"/>
<path d="M118.8,606.8 L118.80,555.30" stroke="#9fe2ff" stroke-width="0.7" opacity="0.8"/>
<path d="M118.8,606.8 L151.63,567.12" stroke="#9fe2ff" stroke-width="0.7" opacity="0.8"/>
<path d="M118.8,606.8 L149.07,648.46" stroke="#9fe2ff" stroke-width="0.7" opacity="0.8"/>
<path d="M118.8,606.8 L68.21,616.45" stroke="#9fe2ff" stroke-width="0.7" opacity="0.8"/>
<text x="131.9" y="575.1" text-anchor="middle" font-size="12.5" fill="#f9c3e6">11%</text>
<text x="157.4" y="612.6" text-anchor="middle" font-size="12.5" fill="#ffdf9a">29%</text>
<text x="104.6" y="647.3" text-anchor="middle" font-size="12.5" fill="#c4f2ff">32%</text>
<text x="89.0" y="586.8" text-anchor="middle" font-size="12.5" fill="#c4f2ff">28%</text>
<g filter="url(#glow)">
<path d="M551.20,542.20 A69.3,69.3 0 0 1 591.93,555.44" fill="none" stroke="#ffb0dd" stroke-width="3"/>
<path d="M591.93,555.44 A69.3,69.3 0 0 1 607.26,652.23" fill="none" stroke="#ffe2a0" stroke-width="3"/>
<path d="M607.26,652.23 A69.3,69.3 0 0 1 485.29,632.91" fill="none" stroke="#a8ecff" stroke-width="3"/>
<path d="M485.29,632.91 A69.3,69.3 0 0 1 551.20,542.20" fill="none" stroke="#a8ecff" stroke-width="3"/>
</g>
<path d="M551.2,611.5 L551.20,543.00 A68.5,68.5 0 0 1 591.46,556.08 Z" fill="#da007e"/>
<path d="M551.2,611.5 L591.46,556.08 A68.5,68.5 0 0 1 606.62,651.76 Z" fill="#fb910a"/>
<path d="M551.2,611.5 L606.62,651.76 A68.5,68.5 0 0 1 486.05,632.67 Z" fill="#0f86de"/>
<path d="M551.2,611.5 L486.05,632.67 A68.5,68.5 0 0 1 551.20,543.00 Z" fill="#1790bd"/>
<path d="M551.2,611.5 L551.20,543.00" stroke="#9fe2ff" stroke-width="0.7" opacity="0.8"/>
<path d="M551.2,611.5 L591.46,556.08" stroke="#9fe2ff" stroke-width="0.7" opacity="0.8"/>
<path d="M551.2,611.5 L606.62,651.76" stroke="#9fe2ff" stroke-width="0.7" opacity="0.8"/>
<path d="M551.2,611.5 L486.05,632.67" stroke="#9fe2ff" stroke-width="0.7" opacity="0.8"/>
<text x="567.7" y="565.3" text-anchor="middle" font-size="13" fill="#f9c3e6">10%</text>
<text x="604.0" y="607.7" text-anchor="middle" font-size="13" fill="#ffdf9a">25%</text>
<text x="542.8" y="668.9" text-anchor="middle" font-size="13" fill="#c4f2ff">35%</text>
<text x="508.0" y="584.7" text-anchor="middle" font-size="13" fill="#c4f2ff">30%</text>
<text x="47.7" y="173.4" font-size="12.9" font-weight="bold" fill="#111" text-anchor="end">17.12 ktCO<tspan font-size="8.8" dy="3.6">2</tspan><tspan dy="-3.6">e</tspan></text>
<text x="28" y="191" font-size="12.6" fill="#8d8d8d" text-anchor="end">17.45</text>
<text x="56.8" y="207" font-size="12.6" fill="#8d8d8d" text-anchor="end">m) = 1424</text>
<text x="53" y="221.5" font-size="12.6" fill="#8d8d8d" text-anchor="end"> = applied</text>
<text x="30" y="236.7" font-size="12.6" fill="#8d8d8d" text-anchor="end">&amp; 0.06</text>
<text x="32" y="438.9" font-size="12.9" font-weight="bold" fill="#111" text-anchor="end">17.12 ktCO<tspan font-size="8.8" dy="3.6">2</tspan><tspan dy="-3.6">e</tspan></text>
<text x="21" y="463.6" font-size="12.6" fill="#8d8d8d" text-anchor="end">7.45</text>
<text x="50" y="479.6" font-size="12.6" fill="#8d8d8d" text-anchor="end">n) = 1424</text>
<text x="47" y="495.6" font-size="12.6" fill="#8d8d8d" text-anchor="end">= applied</text>
<text x="23" y="511" font-size="12.6" fill="#8d8d8d" text-anchor="end">0.04</text>
<text x="43.7" y="627" font-size="12.6" fill="#8d8d8d" text-anchor="end">= 17.45</text>
<text x="73.4" y="642.8" font-size="12.6" fill="#8d8d8d" text-anchor="end">(mm) = 1424</text>
<text x="60.3" y="657.6" font-size="12.6" fill="#8d8d8d" text-anchor="end">ty) = None</text>
<text x="46.8" y="672.5" font-size="12.6" fill="#8d8d8d" text-anchor="end">2 &amp; 0.04</text>
<text x="163.2" y="655.2" font-size="12.9" font-weight="bold" fill="#111" text-anchor="start">13.5 ktCO<tspan font-size="8.8" dy="3.6">2</tspan><tspan dy="-3.6">e</tspan></text>
<text x="567.8" y="178.5" font-size="12.9" font-weight="bold" fill="#111" text-anchor="start">17.03 ktCO<tspan font-size="8.8" dy="3.6">2</tspan><tspan dy="-3.6">e</tspan></text>
<text x="603.5" y="194.8" font-size="12.6" fill="#8d8d8d">•</text>
<text x="621" y="194.8" font-size="12.6" fill="#8d8d8d">Total height (m) = 17.45</text>
<text x="603.5" y="210.3" font-size="12.6" fill="#8d8d8d">•</text>
<text x="621" y="210.3" font-size="12.6" fill="#8d8d8d">Wall thickness (mm) = 1424</text>
<text x="603.5" y="225.6" font-size="12.6" fill="#8d8d8d">•</text>
<text x="621" y="225.6" font-size="12.6" fill="#8d8d8d">Interior (applied) = applied</text>
<text x="603.5" y="241" font-size="12.6" fill="#8d8d8d">•</text>
<text x="621" y="241" font-size="12.6" fill="#8d8d8d">Reinft. Ratio = 0.02 &amp; 0.06</text>
<text x="620.4" y="428.3" font-size="12.9" font-weight="bold" fill="#111" text-anchor="start">13.5 ktCO<tspan font-size="8.8" dy="3.6">2</tspan><tspan dy="-3.6">e</tspan></text>
<text x="614.0" y="450" font-size="12.6" fill="#8d8d8d">•</text>
<text x="631.7" y="450" font-size="12.6" fill="#8d8d8d">Total height (m) = 17.45</text>
<text x="614.0" y="465" font-size="12.6" fill="#8d8d8d">•</text>
<text x="631.7" y="465" font-size="12.6" fill="#8d8d8d">Wall thickness (mm) = 1424</text>
<text x="614.0" y="479.9" font-size="12.6" fill="#8d8d8d">•</text>
<text x="631.7" y="479.9" font-size="12.6" fill="#8d8d8d">Interior (applied) = applied</text>
<text x="614.0" y="495" font-size="12.6" fill="#8d8d8d">•</text>
<text x="631.7" y="495" font-size="12.6" fill="#8d8d8d">Reinft. Ratio = 0.02 &amp; 0.04</text>
<text x="412.4" y="664.2" font-size="12.9" font-weight="bold" fill="#111" text-anchor="start">18.2 ktCO<tspan font-size="8.8" dy="3.6">2</tspan><tspan dy="-3.6">e</tspan></text>
<text x="626.1" y="602.8" font-size="12.6" fill="#8d8d8d">•</text>
<text x="643.7" y="602.8" font-size="12.6" fill="#8d8d8d">Total height (m) = 17.45</text>
<text x="626.1" y="617.4" font-size="12.6" fill="#8d8d8d">•</text>
<text x="643.7" y="617.4" font-size="12.6" fill="#8d8d8d">Wall thickness (mm) = 1424</text>
<text x="626.1" y="632.5" font-size="12.6" fill="#8d8d8d">•</text>
<text x="643.7" y="632.5" font-size="12.6" fill="#8d8d8d">Interior (applied) = applied</text>
<text x="626.1" y="647.7" font-size="12.6" fill="#8d8d8d">•</text>
<text x="643.7" y="647.7" font-size="12.6" fill="#8d8d8d">Reinft. Ratio = 0.02 &amp; 0.04</text>
</svg>
</body></html>
